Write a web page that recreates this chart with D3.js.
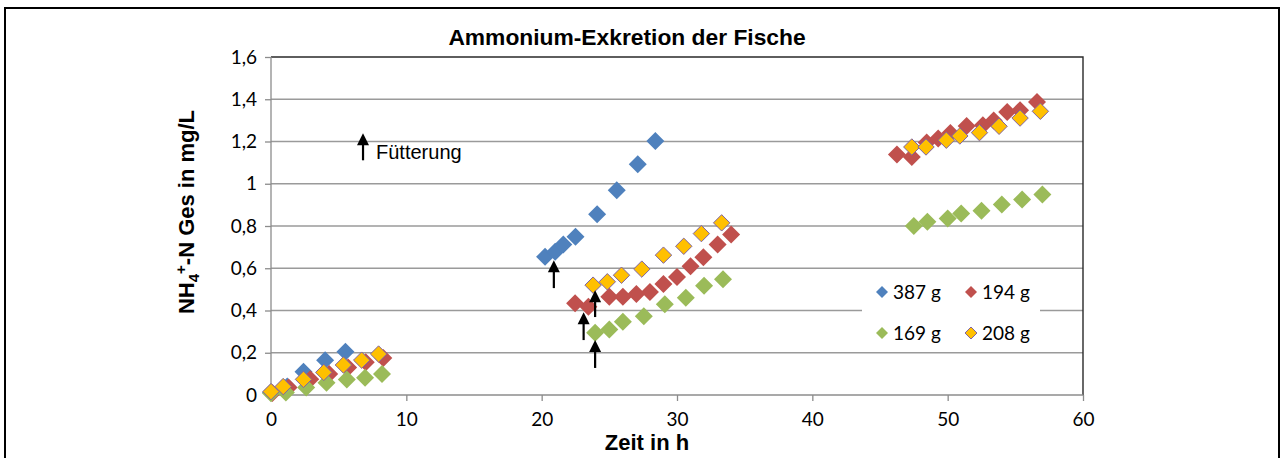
<!DOCTYPE html>
<html>
<head>
<meta charset="utf-8">
<script src="https://cdn.jsdelivr.net/npm/d3@7/dist/d3.min.js"></script>
<style>
  html, body { margin: 0; padding: 0; background: #fff; }
  svg { display: block; }
</style>
</head>
<body>
<svg id="chart" width="1284" height="458"></svg>
<script>
// Ammonium excretion of fish: NH4+-N (mg/L) over time (h) for four fish masses
const seriesNames = ["387 g", "194 g", "169 g", "208 g"];
const seriesColors = ["#4f81bd", "#c0504d", "#9bbb59", "#ffc000"];

// [time in h, NH4+-N in mg/L]
const fish387 = [
  [0, 0.012], [1.2, 0.04], [2.4, 0.11], [4.0, 0.165], [5.5, 0.205],
  [20.25, 0.654], [21.0, 0.678], [21.6, 0.712], [22.5, 0.749], [24.1, 0.856],
  [25.55, 0.969], [27.1, 1.092], [28.4, 1.202]
];
const fish194 = [
  [0.1, 0.01], [1.3, 0.035], [2.9, 0.075], [4.3, 0.1], [5.7, 0.13], [7.0, 0.155], [8.3, 0.175],
  [22.47, 0.434], [23.45, 0.418], [25.0, 0.465], [26.0, 0.465], [27.0, 0.478], [28.0, 0.488],
  [29.0, 0.525], [30.0, 0.559], [31.0, 0.61], [31.95, 0.652], [33.0, 0.712], [34.0, 0.76],
  [46.25, 1.138], [47.35, 1.127], [48.45, 1.195], [49.3, 1.214], [50.2, 1.24], [51.4, 1.273],
  [52.6, 1.277], [53.4, 1.30], [54.4, 1.34], [55.35, 1.348], [56.6, 1.387]
];
const fish169 = [
  [0, 0.008], [1.1, 0.012], [2.6, 0.035], [4.1, 0.058], [5.6, 0.073], [6.95, 0.082], [8.2, 0.10],
  [23.95, 0.295], [25.0, 0.31], [26.0, 0.347], [27.55, 0.373], [29.1, 0.429], [30.65, 0.46],
  [32.0, 0.517], [33.4, 0.548],
  [47.5, 0.80], [48.5, 0.82], [50.0, 0.835], [51.0, 0.859], [52.5, 0.872], [54.0, 0.902],
  [55.5, 0.925], [57.0, 0.949]
];
const fish208 = [
  [0, 0.016], [0.9, 0.04], [2.4, 0.074], [3.9, 0.107], [5.35, 0.142], [6.7, 0.165], [7.95, 0.194],
  [23.8, 0.52], [24.85, 0.536], [25.9, 0.567], [27.4, 0.596], [29.0, 0.662], [30.5, 0.704],
  [31.8, 0.764], [33.3, 0.815],
  [47.35, 1.174], [48.4, 1.174], [49.9, 1.206], [50.9, 1.226], [52.35, 1.242], [53.8, 1.272],
  [55.35, 1.311], [56.85, 1.343]
];
const seriesValues = [fish387, fish194, fish169, fish208];

// Feeding events: [time in h, arrow tip, arrow base] in mg/L
const feedings = [
  [20.9, 0.638, 0.506],
  [23.1, 0.392, 0.26],
  [23.95, 0.26, 0.128],
  [23.95, 0.496, 0.369]
];
const feedingLegend = [6.8, 1.239, 1.111];

const xTicks = [0, 10, 20, 30, 40, 50, 60];
const yTicks = [0, 0.2, 0.4, 0.6, 0.8, 1.0, 1.2, 1.4, 1.6];

const svg = d3.select("#chart");
const plot = { left: 271, right: 1083, top: 57, bottom: 395 };

const x = d3.scaleLinear().domain([0, 60]).range([plot.left, plot.right]);
const y = d3.scaleLinear().domain([0, 1.6]).range([plot.bottom, plot.top]);
const fmt = v => String(+v.toFixed(1)).replace(".", ",");

// outer frame
svg.append("rect")
  .attr("x", 5).attr("y", 8).attr("width", 1274).attr("height", 470)
  .attr("fill", "#fff").attr("stroke", "#000").attr("stroke-width", 2);

// horizontal gridlines
svg.append("g").selectAll("line").data(yTicks.slice(1, -1)).join("line")
  .attr("x1", plot.left).attr("x2", plot.right)
  .attr("y1", d => y(d)).attr("y2", d => y(d))
  .attr("stroke", "#9a9a9a").attr("stroke-width", 1.3);

// plot area border (top and right)
svg.append("path")
  .attr("d", `M${plot.left},${plot.top}H${plot.right}V${plot.bottom}`)
  .attr("fill", "none").attr("stroke", "#2a2a2a").attr("stroke-width", 1.4);

// axes
const fontTick = "Lato, 'Open Sans', sans-serif";
const yAxis = d3.axisLeft(y).tickValues(yTicks).tickFormat(fmt).tickSize(6).tickPadding(8);
const gy = svg.append("g").attr("transform", `translate(${plot.left},0)`).call(yAxis);
const xAxis = d3.axisBottom(x).tickValues(xTicks).tickFormat(d3.format("d")).tickSize(6).tickPadding(12);
const gx = svg.append("g").attr("transform", `translate(0,${plot.bottom})`).call(xAxis);
[gx, gy].forEach(g => {
  g.select(".domain").attr("stroke", "#8c8c8c").attr("stroke-width", 1.3);
  g.selectAll(".tick line").attr("stroke", "#8c8c8c").attr("stroke-width", 1.3);
  g.selectAll(".tick text").attr("fill", "#000").attr("font-size", 19)
    .attr("font-family", fontTick);
});
gy.select(".domain").attr("d", `M0,${plot.top}V${plot.bottom}`);
gx.select(".domain").attr("d", `M${plot.left},0H${plot.right}`);

// diamond marker path
const diamond = r => `M0,${-r}L${r},0L0,${r}L${-r},0Z`;

// series markers, drawn in series order
seriesValues.forEach((vals, i) => {
  const orange = i === 3;
  svg.append("g").selectAll("path").data(vals).join("path")
    .attr("transform", d => `translate(${x(d[0])},${y(d[1])})`)
    .attr("d", diamond(orange ? 8.2 : 9))
    .attr("fill", seriesColors[i])
    .attr("stroke", orange ? "#8064a2" : "none")
    .attr("stroke-width", orange ? 1 : 0);
});

// feeding arrows
function arrow(t, tip, base) {
  const g = svg.append("g");
  g.append("line")
    .attr("x1", x(t)).attr("x2", x(t))
    .attr("y1", y(base)).attr("y2", y(tip) + 9)
    .attr("stroke", "#000").attr("stroke-width", 2.2);
  g.append("path")
    .attr("d", `M${x(t)},${y(tip)}l6,12h-12Z`)
    .attr("fill", "#000");
}
feedings.forEach(f => arrow(f[0], f[1], f[2]));
arrow(feedingLegend[0], feedingLegend[1], feedingLegend[2]);
svg.append("text")
  .attr("x", x(feedingLegend[0]) + 13).attr("y", y(feedingLegend[2]) - 1)
  .attr("font-family", "'Liberation Sans', Arial, sans-serif").attr("font-size", 20)
  .text("Fütterung");

// legend
const legend = svg.append("g");
legend.append("rect")
  .attr("x", 862).attr("y", 274).attr("width", 178).attr("height", 76)
  .attr("fill", "#fff");
const legendPos = [[882, 292], [971, 292], [882, 333], [971, 333]];
seriesNames.forEach((name, i) => {
  const [lx, ly] = legendPos[i];
  legend.append("path")
    .attr("transform", `translate(${lx},${ly})`)
    .attr("d", diamond(6))
    .attr("fill", seriesColors[i])
    .attr("stroke", i === 3 ? "#8064a2" : "none")
    .attr("stroke-width", 1);
  legend.append("text")
    .attr("x", lx + 11).attr("y", ly + 7)
    .attr("font-family", fontTick).attr("font-size", 19)
    .text(name);
});

// titles
svg.append("text")
  .attr("x", 627).attr("y", 45).attr("text-anchor", "middle")
  .attr("font-family", "'Liberation Sans', Arial, sans-serif").attr("font-weight", "bold")
  .attr("font-size", 22.8)
  .text("Ammonium-Exkretion der Fische");

svg.append("text")
  .attr("x", 647).attr("y", 450).attr("text-anchor", "middle")
  .attr("font-family", "'Liberation Sans', Arial, sans-serif").attr("font-weight", "bold")
  .attr("font-size", 22)
  .text("Zeit in h");

const yl = svg.append("text")
  .attr("transform", "translate(194,212) rotate(-90)")
  .attr("text-anchor", "middle")
  .attr("font-family", "'Liberation Sans', Arial, sans-serif").attr("font-weight", "bold")
  .attr("font-size", 22);
yl.append("tspan").text("NH");
yl.append("tspan").attr("font-size", 15).attr("dy", 5).text("4");
yl.append("tspan").attr("font-size", 15).attr("dy", -13).text("+");
yl.append("tspan").attr("dy", 8).text("-N Ges in mg/L");
</script>
</body>
</html>
